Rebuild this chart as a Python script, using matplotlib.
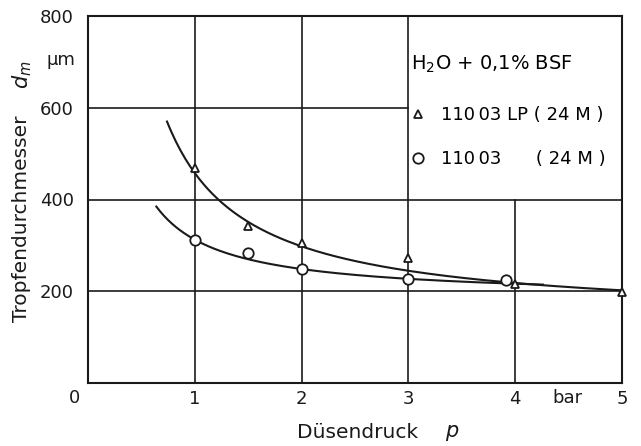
import numpy as np
import matplotlib.pyplot as plt
from matplotlib.lines import Line2D

# measured points: nozzle pressure p [bar] vs. mean drop diameter d_m [um]
p_lp = [1.0, 1.5, 2.0, 3.0, 4.0, 5.0]
d_lp = [468, 343, 305, 272, 215, 198]

p_std = [1.0, 1.5, 2.0, 3.0, 3.91]
d_std = [312, 283, 248, 226, 224]

# hand-drawn trend curves, read at a few points
curve_lp_p = [0.74, 1.0, 2.0, 3.0, 5.0]
curve_lp_d = [563, 466, 303, 242, 198]
curve_std_p = [0.64, 1.0, 2.0, 3.0, 4.26]
curve_std_d = [385, 312, 248, 226, 216]

x_ticks = [1, 2, 3, 4, 5]
y_ticks = [200, 400, 600, 800]

label_lp = "110\u200903 LP ( 24 M )"
label_std = "110\u200903      ( 24 M )"
legend_title = r"H$_2$O + 0,1% BSF"

ink = "#1a1a1a"
fs = 13

fig = plt.figure(figsize=(6.41, 4.46), dpi=100)
ax = fig.add_axes([88/641, 1-383/446, 534/641, 367/446])
ax.set_xlim(0, 5)
ax.set_ylim(0, 800)

# grid, leaving the upper right cell free for the legend
for x in [1, 2, 3]:
    ax.axvline(x, color=ink, lw=1.2, zorder=1)
ax.plot([4, 4], [0, 400], color=ink, lw=1.2, zorder=1)
for y in [200, 400]:
    ax.axhline(y, color=ink, lw=1.2, zorder=1)
ax.plot([0, 3], [600, 600], color=ink, lw=1.2, zorder=1)


def trend(px, dy):
    # d = a + b/p through the read curve points
    b, a = np.polyfit(1/np.array(px), np.array(dy), 1)
    pp = np.linspace(min(px), max(px), 200)
    return pp, a + b/pp


pp, dd = trend(curve_lp_p, curve_lp_d)
ax.plot(pp, dd, color=ink, lw=1.5, zorder=2, clip_on=False)
pp, dd = trend(curve_std_p, curve_std_d)
ax.plot(pp, dd, color=ink, lw=1.5, zorder=2, clip_on=False)

ax.plot(p_lp, d_lp, ls="none", marker="^", ms=6, mfc="white", mec=ink,
        mew=1.3, zorder=4, clip_on=False)
ax.plot(p_std, d_std, ls="none", marker="o", ms=7.5, mfc="white", mec=ink,
        mew=1.3, zorder=3, clip_on=False)

for s in ax.spines.values():
    s.set_linewidth(1.5)
    s.set_color(ink)

ax.set_xticks(x_ticks)
ax.set_xticklabels([str(t) for t in x_ticks])
ax.set_yticks(y_ticks)
ax.set_yticklabels([str(t) for t in y_ticks])
ax.tick_params(length=0, labelsize=fs, labelcolor=ink)
ax.tick_params(axis="x", pad=5)
ax.tick_params(axis="y", pad=10)

ax.annotate("0", xy=(0, 0), xytext=(-14, -15), textcoords="offset pixels",
            ha="center", va="center", fontsize=fs, color=ink)
ax.annotate("bar", xy=(4.49, 0), xytext=(0, -15), textcoords="offset pixels",
            ha="center", va="center", fontsize=fs, color=ink)
ax.annotate("\u00b5m", xy=(0, 703), xytext=(-13, 0), textcoords="offset pixels",
            ha="right", va="center", fontsize=fs, color=ink)

fig.text(358/641, 1-433/446, "Düsendruck", ha="center", va="center",
         fontsize=14.5, color=ink)
fig.text(452/641, 1-433/446, "$p$", ha="center", va="center",
         fontsize=15, color=ink)
fig.text(22/641, 1-219/446, "Tropfendurchmesser", rotation=90,
         ha="center", va="center", fontsize=14.5, color=ink)
fig.text(22/641, 1-75/446, "$d_m$", rotation=90,
         ha="center", va="center", fontsize=15, color=ink)

handles = [Line2D([], [], ls="none", marker="^", ms=6, mfc="white", mec=ink, mew=1.3),
           Line2D([], [], ls="none", marker="o", ms=7.5, mfc="white", mec=ink, mew=1.3)]
leg = ax.legend(handles, [label_lp, label_std], title=legend_title,
                loc="upper left", bbox_to_anchor=((411-88)/534, (383-54)/367),
                frameon=False, fontsize=13, title_fontsize=14, borderpad=0,
                handlelength=0.75, handletextpad=0.9, labelspacing=1.45,
                alignment="left", borderaxespad=0)
leg._legend_box.sep = 22

fig.savefig("out.png", dpi=100)
